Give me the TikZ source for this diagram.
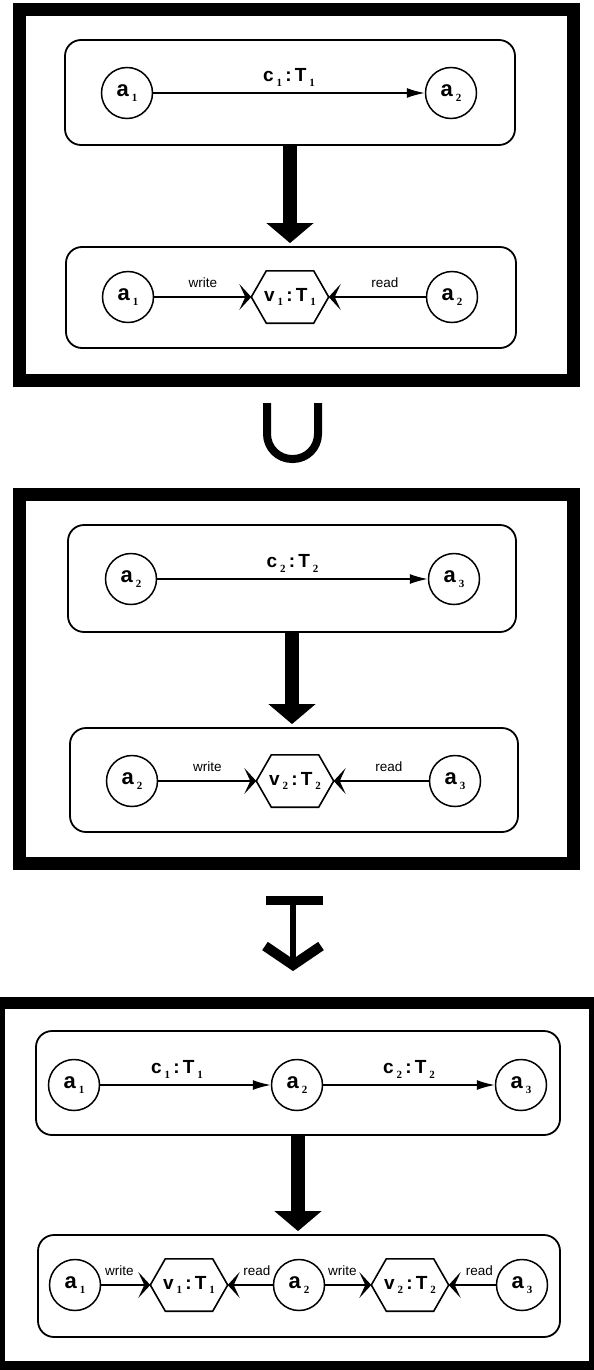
\documentclass[tikz,border=0pt]{standalone}
\usepackage{fontspec}
\setmainfont{Liberation Sans}
\newfontfamily\subfnt{Liberation Serif}
\usetikzlibrary{arrows.meta}

\newcommand{\sbs}[1]{\hspace{3pt}\raisebox{-4.5pt}{\subfnt\fontsize{11}{11}\selectfont #1}}
\newcommand{\av}[1]{{\fontsize{22}{22}\selectfont\bfseries a\sbs{#1}}}
\newcommand{\lbl}[3]{{\fontsize{19}{19}\selectfont\bfseries #1\sbs{#2}\,:\,T\sbs{#3}}}
\newcommand{\hexnode}[4]{%
  \node[hexbox] (#1) at (#2) {\lbl{v}{#3}{#4}};
  \draw[hexline] ([xshift=15pt]#1.north west) -- ([xshift=-15pt]#1.north east) -- (#1.east)
     -- ([xshift=-15pt]#1.south east) -- ([xshift=15pt]#1.south west) -- (#1.west) -- cycle;}

\tikzset{
  frame/.style={line width=13pt},
  ibox/.style={draw, line width=1.8pt, rounded corners=16pt, inner sep=0pt},
  agent/.style={draw, circle, line width=1.5pt, minimum size=51pt, inner sep=0pt},
  hexbox/.style={inner sep=0pt, minimum width=77pt, minimum height=52pt},
  hexline/.style={line width=1.6pt, line join=miter},
  conn/.style={line width=1.5pt},
  chan/.style={conn, -{Latex[length=18pt,width=10pt]}},
  acc/.style={conn, -{Stealth[length=12pt,width=26pt,inset=6pt]}},
  big/.style={line width=14pt, -{Triangle[length=20pt,width=46pt]}},
  lab/.style={inner sep=0pt},
  wlab/.style={inner sep=0pt, font=\fontsize{13.5}{13.5}\selectfont},
  sym/.style={line width=8pt}
}

\begin{document}
\begin{tikzpicture}[x=1pt,y=-1pt]
\useasboundingbox (0,0) rectangle (594,1370);

% ---------------- Frame 1 ----------------
\draw[frame] (19,10) rectangle (573,380);
\node[ibox, minimum width=450pt, minimum height=105pt] (t1) at (290,92.5) {};
\node[agent] (t1a1) at (127,93) {\av1};
\node[agent] (t1a2) at (451,93) {\av2};
\draw[chan] (t1a1) -- (t1a2) node[lab, midway, above=6pt] {\lbl{c}{1}{1}};
\node[ibox, minimum width=450pt, minimum height=101pt] (b1) at (291,297.5) {};
\node[agent] (b1a1) at (128,297) {\av1};
\node[agent] (b1a2) at (452,297) {\av2};
\hexnode{b1v}{290,297}{1}{1}
\draw[acc] (b1a1) -- (b1v.west) node[wlab, midway, above=9pt] {write};
\draw[acc] (b1a2) -- (b1v.east) node[wlab, pos=0.42, above=9pt] {read};
\draw[big] (t1.south) -- ([yshift=3pt]t1.south |- b1.north);

% ---------------- Union ----------------
\draw[sym, rounded corners=25pt] (267,403) -- (267,459) -- (318,459) -- (318,403);

% ---------------- Frame 2 ----------------
\draw[frame] (19,494.5) rectangle (573,863.5);
\node[ibox, minimum width=448pt, minimum height=107pt] (t2) at (292,578.5) {};
\node[agent] (t2a2) at (131,579) {\av2};
\node[agent] (t2a3) at (454,579) {\av3};
\draw[chan] (t2a2) -- (t2a3) node[lab, midway, above=6pt] {\lbl{c}{2}{2}};
\node[ibox, minimum width=448pt, minimum height=104pt] (b2) at (294,780) {};
\node[agent] (b2a2) at (132,781) {\av2};
\node[agent] (b2a3) at (455,781) {\av3};
\hexnode{b2v}{295,781}{2}{2}
\draw[acc] (b2a2) -- (b2v.west) node[wlab, midway, above=9pt] {write};
\draw[acc] (b2a3) -- (b2v.east) node[wlab, pos=0.42, above=9pt] {read};
\draw[big] (t2.south) -- ([yshift=3pt]t2.south |- b2.north);

% ---------------- Maps-to symbol ----------------
\draw[line width=9pt] (266,900.5) -- (323,900.5);
\draw[line width=6pt] (293,904) -- (293,962);
\draw[line width=10pt, line join=miter] (265,946) -- (293,965) -- (321,946);

% ---------------- Frame 3 ----------------
\fill (0,997) rectangle (594,1370);
\fill[white] (5,1009) rectangle (589,1361);
\node[ibox, minimum width=524pt, minimum height=104pt] (t3) at (298,1083) {};
\node[agent] (t3a1) at (74,1085) {\av1};
\node[agent] (t3a2) at (297,1085) {\av2};
\node[agent] (t3a3) at (521,1085) {\av3};
\draw[chan] (t3a1) -- (t3a2) node[lab, pos=0.45, above=6pt] {\lbl{c}{1}{1}};
\draw[chan] (t3a2) -- (t3a3) node[lab, midway, above=6pt] {\lbl{c}{2}{2}};
\node[ibox, minimum width=522pt, minimum height=102pt] (b3) at (299,1286) {};
\node[agent] (b3a1) at (75,1285) {\av1};
\node[agent] (b3a2) at (299,1285) {\av2};
\node[agent] (b3a3) at (522,1285) {\av3};
\hexnode{b3v1}{189,1285}{1}{1}
\hexnode{b3v2}{410,1285}{2}{2}
\draw[acc] (b3a1) -- (b3v1.west) node[wlab, pos=0.37, above=9pt] {write};
\draw[acc] (b3a2) -- (b3v1.east) node[wlab, pos=0.35, above=9pt] {read};
\draw[acc] (b3a2) -- (b3v2.west) node[wlab, pos=0.37, above=9pt] {write};
\draw[acc] (b3a3) -- (b3v2.east) node[wlab, pos=0.35, above=9pt] {read};
\draw[big] (t3.south) -- ([yshift=3pt]t3.south |- b3.north);
\end{tikzpicture}
\end{document}
